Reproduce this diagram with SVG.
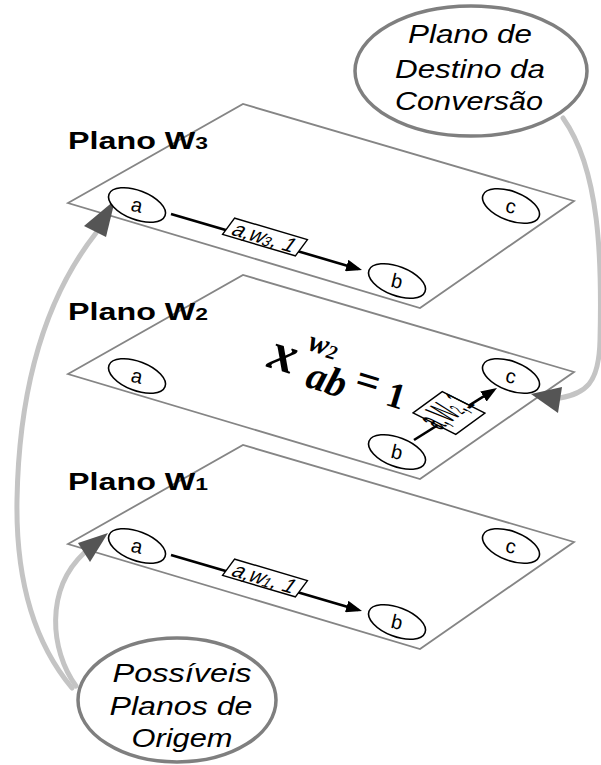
<svg xmlns="http://www.w3.org/2000/svg" width="601" height="765" viewBox="0 0 601 765">
<defs>
<style>
.plane{fill:#fff;stroke:#858585;stroke-width:1.8}
.node ellipse{fill:#fff;stroke:#000;stroke-width:1.6}
.nt{font-family:"Liberation Sans",Arial,sans-serif;font-size:20px;text-anchor:middle;fill:#000}
.edge{fill:none;stroke:#000;stroke-width:2.6}
.lbox{fill:#fff;stroke:#000;stroke-width:1.4}
.lt{font-family:"Liberation Sans",Arial,sans-serif;font-size:21px;text-anchor:middle}
.bubble{fill:#fff;stroke:#7f7f7f;stroke-width:3.5}
.bt{font-family:"Liberation Sans",Arial,sans-serif;font-style:italic;font-size:25px;text-anchor:middle}
.title{font-family:"Liberation Sans",Arial,sans-serif;font-weight:bold;font-size:24px}
.gc{fill:none;stroke:#c4c4c4;stroke-width:5;stroke-linecap:round}
.gh{fill:#555}
.fi{font-family:"Liberation Serif","Times New Roman",serif;font-weight:bold;font-style:italic}
.fu{font-family:"Liberation Serif","Times New Roman",serif;font-weight:bold}
</style>
<marker id="ah" viewBox="0 0 16 12" markerWidth="16" markerHeight="12" refX="12" refY="6" orient="auto" markerUnits="userSpaceOnUse"><path d="M0,0 L16,6 L0,12 z" fill="#000"/></marker>
</defs>

<g id="planes">
<polygon class="plane" points="68,203 243,104 574,201 420,308"/>
<polygon class="plane" points="68,374 243,275 574,372 420,479"/>
<polygon class="plane" points="68,544 243,445 574,542 420,649"/>
</g>

<g id="titles">
<text class="title" x="68" y="149" textLength="140" lengthAdjust="spacingAndGlyphs">Plano W<tspan font-size="17">3</tspan></text>
<text class="title" x="68" y="320" textLength="140" lengthAdjust="spacingAndGlyphs">Plano W<tspan font-size="17">2</tspan></text>
<text class="title" x="68" y="490" textLength="140" lengthAdjust="spacingAndGlyphs">Plano W<tspan font-size="17">1</tspan></text>
</g>

<g id="formula" transform="translate(268,367) rotate(17)">
<text class="fi" x="-2" y="0" font-size="54">x</text>
<text class="fi" x="32" y="-28" font-size="30">w<tspan font-size="20" dy="2">2</tspan></text>
<text class="fi" x="40" y="8" font-size="40">ab</text>
<text class="fu" x="88" y="-2" font-size="42">=</text>
<text class="fu" x="122" y="2" font-size="36">1</text>
</g>

<g id="connectors">
<path class="gc" d="M72,688 Q15,620 17,500 Q20,330 96,233"/>
<polygon class="gh" points="115,200 84,226 106,237"/>
<path class="gc" d="M76,686 C50,650 45,590 84,553"/>
<polygon class="gh" points="108,533 78,543 90,562"/>
<path class="gc" d="M563,118 C600,170 602,260 600,340 C599,385 585,393 560,398"/>
<polygon class="gh" points="531,394 562,387 558,413"/>
<path class="edge" d="M171,214 L358.2,268.9" marker-end="url(#ah)"/>
<path class="edge" d="M171,555 L358.2,609.9" marker-end="url(#ah)"/>
<path class="edge" d="M414,440 L493.6,390.1" marker-end="url(#ah)"/>
<g id="lbl-w3" transform="translate(265,237) rotate(16.5) skewX(-20)">
<rect class="lbox" x="-38" y="-9.5" width="76" height="19"/>
<text class="lt" x="0" y="7.5">a,w<tspan font-size="14" dy="1">3</tspan><tspan dy="-1">, 1</tspan></text>
</g>
<g id="lbl-w1" transform="translate(265,578) rotate(16.5) skewX(-20)">
<rect class="lbox" x="-38" y="-9.5" width="76" height="19"/>
<text class="lt" x="0" y="7.5">a,w<tspan font-size="14" dy="1">1</tspan><tspan dy="-1">, 1</tspan></text>
</g>
<g id="lbl-w2" transform="matrix(0.583,-0.425,1.78,0.9,449,413)">
<rect class="lbox" x="-25" y="-12" width="50" height="24" vector-effect="non-scaling-stroke"/>
<text class="lt" x="0" y="5" font-size="15">a,W<tspan font-size="11">2</tspan>,1</text>
</g>
</g>

<g id="w3-a" class="node" transform="translate(137,205) rotate(21)"><ellipse rx="30" ry="14.5"/><text class="nt" y="7" transform="rotate(-8)">a</text></g>
<g id="w3-b" class="node" transform="translate(397,281) rotate(21)"><ellipse rx="30" ry="14.5"/><text class="nt" y="7" transform="rotate(-8)">b</text></g>
<g id="w3-c" class="node" transform="translate(511,206) rotate(21)"><ellipse rx="30" ry="14.5"/><text class="nt" y="7" transform="rotate(-8)">c</text></g>
<g id="w2-a" class="node" transform="translate(137,376) rotate(21)"><ellipse rx="30" ry="14.5"/><text class="nt" y="7" transform="rotate(-8)">a</text></g>
<g id="w2-b" class="node" transform="translate(397,452) rotate(21)"><ellipse rx="30" ry="14.5"/><text class="nt" y="7" transform="rotate(-8)">b</text></g>
<g id="w2-c" class="node" transform="translate(511,376) rotate(21)"><ellipse rx="30" ry="14.5"/><text class="nt" y="7" transform="rotate(-8)">c</text></g>
<g id="w1-a" class="node" transform="translate(137,546) rotate(21)"><ellipse rx="30" ry="14.5"/><text class="nt" y="7" transform="rotate(-8)">a</text></g>
<g id="w1-b" class="node" transform="translate(397,622) rotate(21)"><ellipse rx="30" ry="14.5"/><text class="nt" y="7" transform="rotate(-8)">b</text></g>
<g id="w1-c" class="node" transform="translate(511,546) rotate(21)"><ellipse rx="30" ry="14.5"/><text class="nt" y="7" transform="rotate(-8)">c</text></g>

<g id="destino">
<ellipse class="bubble" cx="471" cy="71" rx="116" ry="65"/>
<text class="bt" x="470" y="43" textLength="124" lengthAdjust="spacingAndGlyphs">Plano de</text>
<text class="bt" x="470" y="78" textLength="150" lengthAdjust="spacingAndGlyphs">Destino da</text>
<text class="bt" x="469" y="110" textLength="148" lengthAdjust="spacingAndGlyphs">Conversão</text>
</g>

<g id="origem">
<ellipse class="bubble" cx="177" cy="700" rx="99" ry="62"/>
<text class="bt" x="182" y="682" textLength="139" lengthAdjust="spacingAndGlyphs">Possíveis</text>
<text class="bt" x="181" y="715" textLength="143" lengthAdjust="spacingAndGlyphs">Planos de</text>
<text class="bt" x="182" y="747" textLength="101" lengthAdjust="spacingAndGlyphs">Origem</text>
</g>
</svg>
